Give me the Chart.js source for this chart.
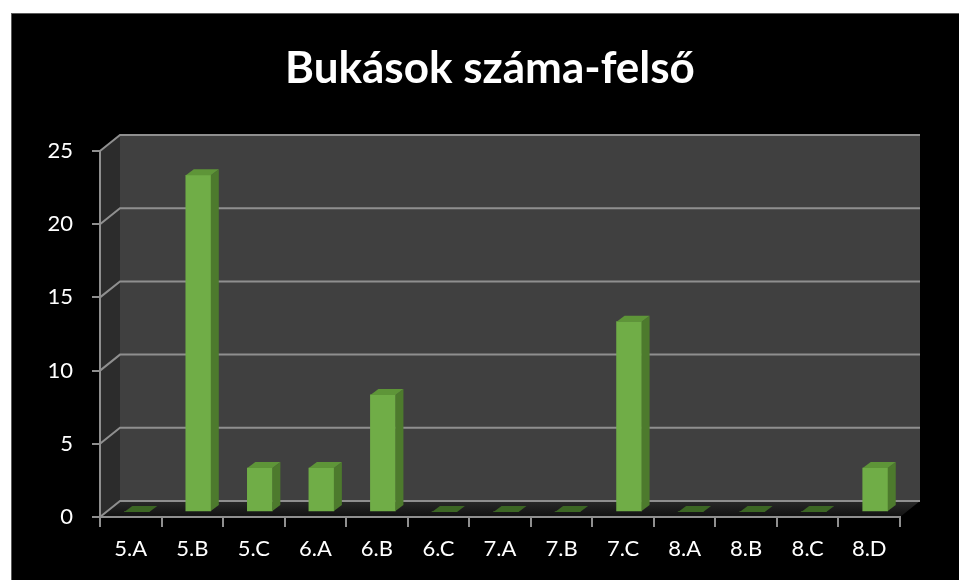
<!DOCTYPE html>
<html><head><meta charset="utf-8">
<script src="https://cdn.jsdelivr.net/npm/chart.js@4"></script>
<style>html,body{margin:0;padding:0;background:#fff;overflow:hidden}#wrap{position:absolute;left:0;top:0;width:959px;height:580px}</style>
</head><body><div id="wrap"><canvas id="c"></canvas></div>
<script>
const categories = ['5.A','5.B','5.C','6.A','6.B','6.C','7.A','7.B','7.C','8.A','8.B','8.C','8.D'];
const failures = [0, 23, 3, 3, 8, 0, 0, 0, 13, 0, 0, 0, 3];
const yTickValues = [0, 5, 10, 15, 20, 25];
const titleText = 'Bukások száma-felső';

const WALL_DX = 20, WALL_DY = -16;   // depth of the 3D walls
const BAR_DX = 6, BAR_DY = -5;       // bars placed slightly into the depth
const BAR_DEPTH_X = 8, BAR_DEPTH_Y = -6;
const FONT = 'Lato, "Open Sans", sans-serif';

function poly(ctx, pts, fill){ ctx.beginPath(); ctx.moveTo(pts[0][0],pts[0][1]); for(let i=1;i<pts.length;i++) ctx.lineTo(pts[i][0],pts[i][1]); ctx.closePath(); ctx.fillStyle=fill; ctx.fill(); }

const background = {
  id:'background',
  afterLayout(chart){
    if (chart.titleBlock) { chart.titleBlock.left = 21; chart.titleBlock.right = chart.width; }
  },
  beforeDraw(chart){
    const ctx = chart.ctx, W = chart.width, H = chart.height;
    ctx.save();
    ctx.fillStyle = '#ffffff'; ctx.fillRect(0,0,W,H);
    ctx.fillStyle = '#000000'; ctx.fillRect(11,13,W-11,H-13);
    ctx.strokeStyle = '#5a5a5a'; ctx.lineWidth = 1; ctx.strokeRect(11.5,13.5,W,H);
    const a = chart.chartArea, L=a.left, R=a.right, T=a.top, B=a.bottom;
    poly(ctx, [[L+WALL_DX,T+WALL_DY],[R+WALL_DX,T+WALL_DY],[R+WALL_DX,B+WALL_DY],[L+WALL_DX,B+WALL_DY]], '#404040');
    poly(ctx, [[L,T],[L+WALL_DX,T+WALL_DY],[L+WALL_DX,B+WALL_DY],[L,B]], '#2c2c2c');
    const g = ctx.createLinearGradient(0,B+WALL_DY,0,B);
    g.addColorStop(0,'#2a2a2a'); g.addColorStop(1,'#111111');
    poly(ctx, [[L,B],[L+WALL_DX,B+WALL_DY],[R+WALL_DX,B+WALL_DY],[R,B]], g);
    const ys = chart.scales.y;
    ctx.strokeStyle = '#8f8f8f'; ctx.lineWidth = 2;
    ys.ticks.forEach(t=>{
      const y = ys.getPixelForValue(t.value);
      ctx.beginPath(); ctx.moveTo(L,y); ctx.lineTo(L+WALL_DX,y+WALL_DY); ctx.lineTo(R+WALL_DX,y+WALL_DY); ctx.stroke();
    });
    ctx.restore();
  }
};

const bar3d = {
  id:'bar3d',
  beforeDatasetsDraw(chart){ chart.ctx.save(); chart.ctx.translate(BAR_DX, BAR_DY); },
  afterDatasetsDraw(chart){
    const ctx = chart.ctx;
    chart.getDatasetMeta(0).data.forEach(bar=>{
      const p = bar.getProps(['x','y','base','width'], true);
      const l = p.x - p.width/2, r = p.x + p.width/2, top = Math.min(p.y,p.base), base = Math.max(p.y,p.base);
      const dx = BAR_DEPTH_X, dy = BAR_DEPTH_Y;
      if (base - top < 0.5) {
        poly(ctx, [[l,base],[r,base],[r+dx,base+dy],[l+dx,base+dy]], '#3c6624');
      } else {
        poly(ctx, [[r,top],[r+dx,top+dy],[r+dx,base+dy],[r,base]], '#4d7a2d');
        poly(ctx, [[l,top],[l+dx,top+dy],[r+dx,top+dy],[r,top]], '#5e9538');
      }
    });
    ctx.restore();
  }
};

new Chart(document.getElementById('c'), {
  type:'bar',
  data:{ labels: categories, datasets:[{ data: failures, backgroundColor:'#70ad47', borderWidth:0, barThickness:25 }] },
  options:{
    responsive:true, maintainAspectRatio:false, animation:false,
    layout:{ padding:{ left:0, right:59, top:0, bottom:0 } },
    plugins:{
      legend:{display:false}, tooltip:{enabled:false},
      title:{ display:true, text:titleText, color:'#ffffff', font:{family:FONT, size:44, weight:'bold', lineHeight:1}, padding:{top:47,bottom:60} }
    },
    scales:{
      x:{
        grid:{ drawOnChartArea:false, drawTicks:true, tickLength:10, color:'#8f8f8f', lineWidth:2, offset:true },
        border:{ display:true, color:'#8f8f8f', width:2 },
        ticks:{ color:'#ffffff', font:{family:FONT, size:22}, padding:9, maxRotation:0, autoSkip:false },
        afterFit(s){ s.height = 63; }
      },
      y:{
        min:0, max:25,
        afterBuildTicks(s){ s.ticks = yTickValues.map(v=>({value:v})); },
        grid:{ drawOnChartArea:false, drawTicks:true, tickLength:8, color:'#8f8f8f', lineWidth:2 },
        border:{ display:true, color:'#8f8f8f', width:2 },
        ticks:{ color:'#ffffff', font:{family:FONT, size:22}, padding:19 },
        afterFit(s){ s.width = 100; }
      }
    }
  },
  plugins:[background, bar3d]
});
</script></body></html>
